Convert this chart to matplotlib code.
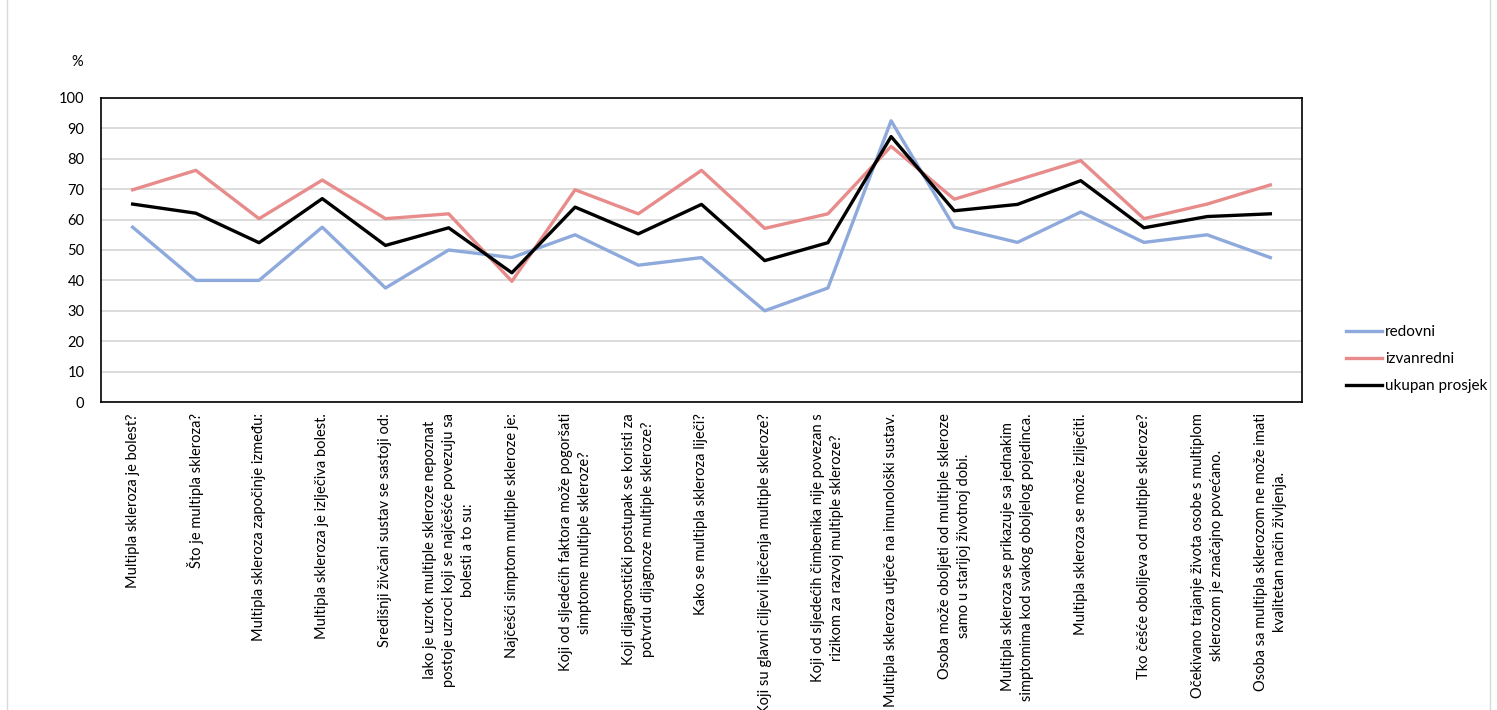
import matplotlib.pyplot as plt
from matplotlib.patches import Rectangle

plt.rcParams['font.family'] = ['Lato', 'DejaVu Sans']

questions = [
    "Multipla skleroza je bolest?",
    "Što je multipla skleroza?",
    "Multipla skleroza započinje između:",
    "Multipla skleroza je izlječiva bolest.",
    "Središnji živčani sustav se sastoji od:",
    "Iako je uzrok multiple skleroze nepoznat\npostoje uzroci koji se najčešće povezuju sa\nbolesti a to su:",
    "Najčešći simptom multiple skleroze je:",
    "Koji od sljedećih faktora može pogoršati\nsimptome multiple skleroze?",
    "Koji dijagnostički postupak se koristi za\npotvrdu dijagnoze multiple skleroze?",
    "Kako se multipla skleroza liječi?",
    "Koji su glavni ciljevi liječenja multiple skleroze?",
    "Koji od sljedećih čimbenika nije povezan s\nrizikom za razvoj multiple skleroze?",
    "Multipla skleroza utječe na imunološki sustav.",
    "Osoba može oboljeti od multiple skleroze\nsamo u starijoj životnoj dobi.",
    "Multipla skleroza se prikazuje sa jednakim\nsimptomima kod svakog oboljelog pojedinca.",
    "Multipla skleroza se može izliječiti.",
    "Tko češće obolijeva od multiple skleroze?",
    "Očekivano trajanje života osobe s multiplom\nsklerozom je značajno povećano.",
    "Osoba sa multipla sklerozom ne može imati\nkvalitetan način življenja.",
]

redovni = [57.5, 40, 40, 57.5, 37.5, 50, 47.5, 55, 45, 47.5,
           30, 37.5, 92.5, 57.5, 52.5, 62.5, 52.5, 55, 47.5]
izvanredni = [69.8, 76.2, 60.3, 73.0, 60.3, 61.9, 39.7, 69.8, 61.9, 76.2,
              57.1, 61.9, 84.1, 66.7, 73.0, 79.4, 60.3, 65.1, 71.4]
ukupno = [65.1, 62.1, 52.4, 66.9, 51.5, 57.3, 42.5, 64.1, 55.3, 65.0,
          46.5, 52.4, 87.3, 62.9, 65.0, 72.8, 57.3, 61.0, 61.9]

fig = plt.figure(figsize=(14.97, 7.10), dpi=100)
ax = fig.add_axes([0.0675, 0.4338, 0.8022, 0.4282])

x = range(len(questions))
ax.plot(x, redovni, color='#8EA9DB', lw=2.4, label='redovni')
ax.plot(x, izvanredni, color='#E88B8B', lw=2.4, label='izvanredni')
ax.plot(x, ukupno, color='black', lw=2.4, label='ukupan prosjek')

ax.set_xlim(-0.5, len(questions) - 0.5)
ax.set_ylim(0, 100)
ax.set_yticks(range(0, 101, 10))
ax.yaxis.grid(True, color='#D9D9D9', lw=1.3)
ax.set_axisbelow(True)
ax.tick_params(axis='y', length=0, labelsize=10.5, pad=12)
ax.set_xticks(list(x))
ax.set_xticklabels(questions, rotation=90, fontsize=10.5, va='top', ha='center',
                   multialignment='center', linespacing=1.45)
ax.tick_params(axis='x', length=0, pad=8)
for s in ax.spines.values():
    s.set_linewidth(1.2)

fig.text(0.0515, 0.912, '%', fontsize=10.5, ha='center', va='center')

ax.legend(loc='center left', bbox_to_anchor=(1.025, 0.14), frameon=False,
          fontsize=11, handlelength=2.4, handletextpad=0.15, labelspacing=0.85)

fig.patches.append(Rectangle((0.005, -0.01), 0.99, 1.02, transform=fig.transFigure,
                             fill=False, edgecolor='#D9D9D9', lw=1))

fig.savefig('out.png', dpi=100)
